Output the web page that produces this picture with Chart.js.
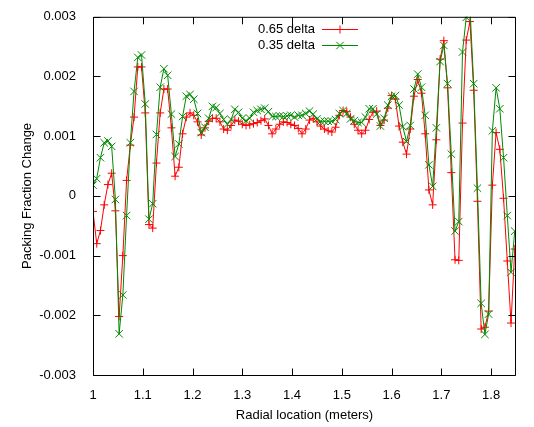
<!DOCTYPE html>
<html>
<head>
<meta charset="utf-8">
<script src="https://cdn.jsdelivr.net/npm/chart.js@4/dist/chart.umd.min.js"></script>
<style>
html,body{margin:0;padding:0;background:#fff;}
#wrap{width:534px;height:427px;position:relative;}
</style>
</head>
<body>
<div id="wrap"><canvas id="c"></canvas></div>
<script>
// ---- data ----
const radialLocation = [
1.0000,1.0075,1.0150,1.0225,1.0300,1.0375,1.0450,1.0525,1.0600,1.0675,
1.0750,1.0825,1.0900,1.0975,1.1050,1.1125,1.1200,1.1275,1.1350,1.1425,
1.1500,1.1575,1.1650,1.1725,1.1800,1.1875,1.1950,1.2025,1.2100,1.2175,
1.2250,1.2325,1.2400,1.2475,1.2550,1.2625,1.2700,1.2775,1.2850,1.2925,
1.3000,1.3075,1.3150,1.3225,1.3300,1.3375,1.3450,1.3525,1.3600,1.3675,
1.3750,1.3825,1.3900,1.3975,1.4050,1.4125,1.4200,1.4275,1.4350,1.4425,
1.4500,1.4575,1.4650,1.4725,1.4800,1.4875,1.4950,1.5025,1.5100,1.5175,
1.5250,1.5325,1.5400,1.5475,1.5550,1.5625,1.5700,1.5775,1.5850,1.5925,
1.6000,1.6075,1.6150,1.6225,1.6300,1.6375,1.6450,1.6525,1.6600,1.6675,
1.6750,1.6825,1.6900,1.6975,1.7050,1.7125,1.7200,1.7275,1.7350,1.7425,
1.7500,1.7575,1.7650,1.7725,1.7800,1.7875,1.7950,1.8025,1.8100,1.8175,
1.8250,1.8325,1.8400,1.8475
];

const delta065 = [
-0.00026,-0.00080,-0.00058,-0.00015,0.00019,0.00038,-0.00025,-0.00202,-0.00100,0.00026,
0.00085,0.00132,0.00216,0.00216,0.00139,-0.00048,-0.00054,0.00055,0.00139,0.00179,
0.00179,0.00114,0.00033,0.00048,0.00104,0.00132,0.00139,0.00135,0.00124,0.00102,
0.00114,0.00125,0.00130,0.00130,0.00124,0.00112,0.00110,0.00118,0.00127,0.00125,
0.00120,0.00118,0.00119,0.00121,0.00123,0.00126,0.00129,0.00118,0.00104,0.00112,
0.00120,0.00124,0.00123,0.00120,0.00118,0.00113,0.00104,0.00112,0.00127,0.00130,
0.00124,0.00117,0.00112,0.00109,0.00107,0.00115,0.00135,0.00143,0.00141,0.00132,
0.00120,0.00110,0.00104,0.00110,0.00128,0.00140,0.00142,0.00118,0.00127,0.00147,
0.00168,0.00162,0.00117,0.00090,0.00070,0.00112,0.00167,0.00195,0.00172,0.00104,
0.00010,-0.00015,0.00094,0.00229,0.00260,0.00181,0.00039,-0.00107,-0.00108,0.00122,
0.00261,0.00292,0.00177,-0.00009,-0.00223,-0.00220,-0.00193,0.00018,0.00106,0.00078,
-0.00004,-0.00109,-0.00213,-0.00089
];

const delta035 = [
0.00018,0.00029,0.00064,0.00089,0.00092,0.00083,-0.00006,-0.00231,-0.00166,-0.00033,
0.00089,0.00175,0.00232,0.00236,0.00154,-0.00039,-0.00013,0.00103,0.00182,0.00213,
0.00202,0.00137,0.00066,0.00087,0.00133,0.00167,0.00170,0.00162,0.00138,0.00106,
0.00115,0.00130,0.00150,0.00148,0.00138,0.00128,0.00120,0.00128,0.00145,0.00140,
0.00130,0.00126,0.00130,0.00140,0.00143,0.00145,0.00147,0.00141,0.00133,0.00133,
0.00134,0.00133,0.00134,0.00135,0.00132,0.00135,0.00135,0.00138,0.00142,0.00137,
0.00129,0.00125,0.00125,0.00125,0.00125,0.00128,0.00138,0.00143,0.00138,0.00129,
0.00126,0.00123,0.00123,0.00132,0.00146,0.00146,0.00137,0.00117,0.00130,0.00152,
0.00167,0.00168,0.00152,0.00116,0.00091,0.00118,0.00179,0.00204,0.00182,0.00135,
0.00052,0.00016,0.00114,0.00225,0.00252,0.00188,0.00070,-0.00059,-0.00043,0.00241,
0.00299,0.00315,0.00188,0.00013,-0.00180,-0.00232,-0.00198,0.00109,0.00181,0.00146,
0.00064,-0.00033,-0.00128,-0.00059
];

const seriesNames = ['0.65 delta', '0.35 delta'];
const xTickValues = [1, 1.1, 1.2, 1.3, 1.4, 1.5, 1.6, 1.7, 1.8];
const xTickLabels = ['1', '1.1', '1.2', '1.3', '1.4', '1.5', '1.6', '1.7', '1.8'];
const yTickValues = [-0.003, -0.002, -0.001, 0, 0.001, 0.002, 0.003];
const yTickLabels = ['-0.003', '-0.002', '-0.001', '0', '0.001', '0.002', '0.003'];

// ---- chart ----
const FONT = "'Liberation Sans', Arial, sans-serif";
Chart.defaults.font.family = FONT;
Chart.defaults.font.size = 13;
Chart.defaults.color = '#000';

const toPoints = ys => ys.map((y, i) => ({x: radialLocation[i], y: y}));

const framePlugin = {
  id: 'gnuFrame',
  afterDatasetsDraw(chart) {
    const ctx = chart.ctx, a = chart.chartArea;
    const xs = chart.scales.x, ys = chart.scales.y;
    ctx.save();
    ctx.strokeStyle = '#000';
    ctx.lineWidth = 1;
    ctx.beginPath();
    const L = a.left + 0.5, R = a.right - 0.5, T = a.top + 0.5, B = a.bottom + 0.5;
    ctx.rect(L, T, R - L, B - T);
    const tl = 7;
    xTickValues.forEach(v => {
      const px = Math.round(xs.getPixelForValue(v)) + 0.5;
      ctx.moveTo(px, B); ctx.lineTo(px, B - tl);
      ctx.moveTo(px, T); ctx.lineTo(px, T + tl);
    });
    yTickValues.forEach(v => {
      const py = Math.round(ys.getPixelForValue(v)) + 0.5;
      ctx.moveTo(L, py); ctx.lineTo(L + tl, py);
      ctx.moveTo(R, py); ctx.lineTo(R - tl, py);
    });
    ctx.stroke();

    // key (gnuplot style, top centre)
    const rows = [29, 45];
    chart.data.datasets.forEach((ds, i) => {
      const y = rows[i];
      ctx.font = '13px ' + FONT;
      ctx.fillStyle = '#000';
      ctx.textAlign = 'right';
      ctx.textBaseline = 'middle';
      ctx.fillText(ds.label, 315, y);
      ctx.strokeStyle = ds.borderColor;
      ctx.lineWidth = 1;
      ctx.beginPath();
      ctx.moveTo(322, y + 0.5); ctx.lineTo(358, y + 0.5);
      ctx.stroke();
      ctx.fillStyle = ds.borderColor;
      Chart.helpers.drawPoint(ctx, {pointStyle: ds.pointStyle, radius: ds.pointRadius, borderWidth: 1, rotation: 0}, 340, y + 0.5);
    });
    ctx.restore();
  }
};

new Chart(document.getElementById('c'), {
  type: 'line',
  data: {
    datasets: [
      {
        label: seriesNames[0],
        data: toPoints(delta065),
        borderColor: '#ff0000',
        backgroundColor: '#ff0000',
        borderWidth: 1,
        pointStyle: 'cross',
        pointRadius: 4,
        pointBorderWidth: 1,
        pointBorderColor: '#ff0000',
        tension: 0,
        fill: false,
        order: 2
      },
      {
        label: seriesNames[1],
        data: toPoints(delta035),
        borderColor: '#008a00',
        backgroundColor: '#008a00',
        borderWidth: 1,
        pointStyle: 'crossRot',
        pointRadius: 5.3,
        pointBorderWidth: 1,
        pointBorderColor: '#008a00',
        tension: 0,
        fill: false,
        order: 1
      }
    ]
  },
  options: {
    responsive: true,
    maintainAspectRatio: false,
    devicePixelRatio: 1,
    animation: false,
    events: [],
    layout: {padding: {left: 0, top: 14, right: 18, bottom: 0}},
    plugins: {legend: {display: false}, tooltip: {enabled: false}},
    scales: {
      x: {
        type: 'linear',
        min: 1,
        max: 1.85,
        grid: {display: false},
        border: {display: false},
        afterBuildTicks: s => { s.ticks = xTickValues.map(v => ({value: v})); },
        afterFit: s => { s.height = 52; },
        ticks: {
          padding: 5,
          maxRotation: 0,
          autoSkip: false,
          callback: (v, i) => xTickLabels[i]
        },
        title: {display: true, text: 'Radial location (meters)', padding: {top: 0, bottom: 4}}
      },
      y: {
        type: 'linear',
        min: -0.003,
        max: 0.003,
        grid: {display: false},
        border: {display: false},
        afterBuildTicks: s => { s.ticks = yTickValues.map(v => ({value: v})); },
        afterFit: s => { s.width = 93; },
        ticks: {
          padding: 9,
          autoSkip: false,
          callback: (v, i) => yTickLabels[i]
        },
        title: {display: true, text: 'Packing Fraction Change', padding: {top: 20, bottom: 0}}
      }
    }
  },
  plugins: [framePlugin]
});
</script>
</body>
</html>
